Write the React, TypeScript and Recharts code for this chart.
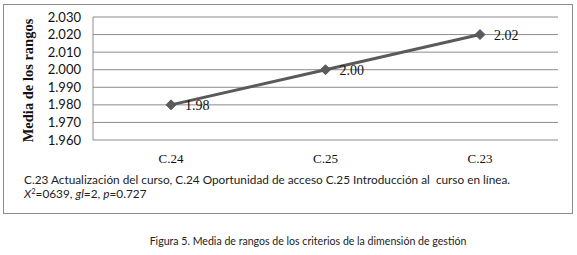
import React from "react";
import { LineChart, Line, XAxis, YAxis, CartesianGrid, LabelList } from "recharts";

const criteria = ["C.24", "C.25", "C.23"];
const meanRanks = [1.98, 2.0, 2.02];
const yTicks = [1.96, 1.97, 1.98, 1.99, 2.0, 2.01, 2.02, 2.03];

const data = criteria.map((c, i) => ({ criterio: c, media: meanRanks[i] }));

const Diamond = (props: any) => {
  const { cx, cy } = props;
  if (cx == null || cy == null) return null;
  const r = 5;
  return (
    <path
      d={`M${cx},${cy - r} L${cx + r},${cy} L${cx},${cy + r} L${cx - r},${cy} Z`}
      fill="#5a5a5a"
      stroke="#5a5a5a"
    />
  );
};

export default function App() {
  return (
    <div style={{ position: "absolute", left: 0, top: 0, width: 577, height: 255, background: "#fff" }}>
      <div
        style={{
          position: "absolute", left: 3, top: 4, width: 568, height: 208,
          border: "1px solid #8c8c8c",
        }}
      />
      <div style={{ position: "absolute", left: 0, top: 0 }}>
        <LineChart
          width={577}
          height={170}
          data={data}
          margin={{ top: 17, right: 19, bottom: 5, left: 0 }}
        >
          <CartesianGrid vertical={false} stroke="#8c8c8c" strokeWidth={1} />
          <XAxis
            dataKey="criterio"
            axisLine={false}
            tickLine={false}
            height={25}
            padding={{ left: 78, right: 78 }}
            tick={{ fontFamily: "Liberation Serif", fontSize: 13, fill: "#111" }}
            tickMargin={8}
          />
          <YAxis
            width={93}
            domain={[1.96, 2.03]}
            ticks={yTicks}
            interval={0}
            tickFormatter={(v: number) => v.toFixed(3)}
            axisLine={{ stroke: "#8c8c8c" }}
            tickLine={false}
            tickSize={0}
            tickMargin={12}
            tick={{ fontFamily: "Lato", fontSize: 13, fill: "#111" }}
            label={{
              value: "Media de los rangos",
              angle: -90,
              position: "center",
              dx: -19,
              dy: 2,
              style: { fontFamily: "Liberation Serif", fontSize: 14.5, fontWeight: "bold", fill: "#111" },
            }}
          />
          <Line
            dataKey="media"
            stroke="#5a5a5a"
            strokeWidth={3}
            dot={<Diamond />}
            activeDot={false}
            isAnimationActive={false}
          >
            <LabelList
              dataKey="media"
              position="right"
              offset={14}
              formatter={(v: number) => v.toFixed(2)}
              style={{ fontFamily: "Liberation Serif", fontSize: 14, fill: "#111" }}
            />
          </Line>
        </LineChart>
      </div>
      <div
        style={{
          position: "absolute", left: 24, top: 173, whiteSpace: "nowrap",
          fontFamily: "Lato", fontSize: 11.8, color: "#222", lineHeight: "14px",
        }}
      >
        C.23 Actualización del curso, C.24 Oportunidad de acceso C.25 Introducción al&nbsp; curso en línea.
        <br />
        <i>X</i><sup style={{ fontSize: 7.5, verticalAlign: "4px", lineHeight: 0 }}>2</sup>=0639, <i>gl</i>=2, <i>p</i>=0.727
      </div>
      <div
        style={{
          position: "absolute", left: 108, width: 400, top: 234, textAlign: "center", whiteSpace: "nowrap",
          fontFamily: "Lato", fontSize: 10.6, color: "#222", lineHeight: "14px",
        }}
      >
        Figura 5. Media de rangos de los criterios de la dimensión de gestión
      </div>
    </div>
  );
}
